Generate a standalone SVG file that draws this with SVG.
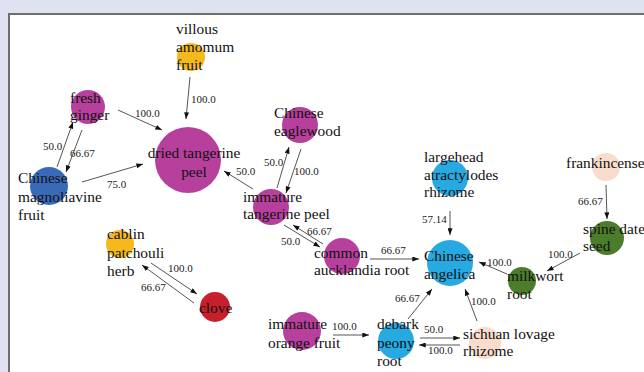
<svg xmlns="http://www.w3.org/2000/svg" width="644" height="372" viewBox="0 0 644 372">
<style>
.n{font-family:"Liberation Serif","Times New Roman",serif;font-size:15.4px;fill:#111}
.l{font-family:"Liberation Serif","Times New Roman",serif;font-size:11px;fill:#222}
.e{stroke:#555;stroke-width:1;fill:none;marker-end:url(#a)}
.pu{fill:#b7409c}.bl{fill:#3a69b8}.cy{fill:#27a9e1}.ye{fill:#f6b91d}.rd{fill:#c5202b}.gr{fill:#4b7d2c}.pe{fill:#f9dccb}
</style>
<defs>
<marker id="a" viewBox="0 0 8 6" refX="8" refY="3" markerWidth="7" markerHeight="5" markerUnits="userSpaceOnUse" orient="auto">
<path d="M0,0 L8,3 L0,6 z" fill="#111"/>
</marker>
</defs>
<rect x="0" y="0" width="644" height="372" fill="#dfe3f1"/>
<rect x="9" y="14" width="645" height="370" fill="#fff" stroke="#6e6e6e" stroke-width="2"/>

<g id="connectors">
<line class="e" x1="190" y1="77" x2="186" y2="119"/>
<text class="l" x="191" y="103">100.0</text>
<line class="e" x1="118" y1="110" x2="162" y2="130"/>
<text class="l" x="135" y="117">100.0</text>
<line class="e" x1="57" y1="167" x2="73" y2="122"/>
<text class="l" x="43" y="150">50.0</text>
<line class="e" x1="82" y1="130" x2="66" y2="172"/>
<text class="l" x="70" y="157">66.67</text>
<line class="e" x1="82" y1="182" x2="143" y2="164"/>
<text class="l" x="107" y="188">75.0</text>
<line class="e" x1="253" y1="189" x2="224" y2="171"/>
<text class="l" x="236" y="175">50.0</text>
<line class="e" x1="277" y1="188" x2="289" y2="147"/>
<text class="l" x="264" y="166">50.0</text>
<line class="e" x1="301" y1="149" x2="286" y2="193"/>
<text class="l" x="294" y="175">100.0</text>
<line class="e" x1="284" y1="225" x2="320" y2="247"/>
<text class="l" x="281" y="245">50.0</text>
<line class="e" x1="323" y1="244" x2="293" y2="225"/>
<text class="l" x="307" y="235">66.67</text>
<line class="e" x1="370" y1="259" x2="419" y2="259"/>
<text class="l" x="381" y="254">66.67</text>
<line class="e" x1="450" y1="211" x2="450" y2="235"/>
<text class="l" x="422" y="223">57.14</text>
<line class="e" x1="606" y1="185" x2="607" y2="219"/>
<text class="l" x="578" y="205">66.67</text>
<line class="e" x1="580" y1="253" x2="547" y2="271"/>
<text class="l" x="548" y="258">100.0</text>
<line class="e" x1="507" y1="274" x2="479" y2="262"/>
<text class="l" x="487" y="266">100.0</text>
<line class="e" x1="408" y1="319" x2="432" y2="289"/>
<text class="l" x="395" y="302">66.67</text>
<line class="e" x1="477" y1="321" x2="465" y2="289"/>
<text class="l" x="471" y="305">100.0</text>
<line class="e" x1="333" y1="335" x2="369" y2="335"/>
<text class="l" x="332" y="330">100.0</text>
<line class="e" x1="420" y1="338" x2="460" y2="338"/>
<text class="l" x="424" y="333">50.0</text>
<line class="e" x1="460" y1="345" x2="419" y2="345"/>
<text class="l" x="428" y="354">100.0</text>
<line class="e" x1="151" y1="263" x2="197" y2="294"/>
<text class="l" x="168" y="272">100.0</text>
<line class="e" x1="194" y1="303" x2="142" y2="265"/>
<text class="l" x="141" y="291">66.67</text>
</g>

<g id="villous-amomum-fruit"><circle class="ye" cx="191" cy="57" r="14"/>
<text class="n" x="176"><tspan x="176" y="34">villous</tspan><tspan x="176" y="52">amomum</tspan><tspan x="176" y="70">fruit</tspan></text></g>
<g id="fresh-ginger"><circle class="pu" cx="88" cy="107" r="17"/>
<text class="n"><tspan x="70" y="103">fresh</tspan><tspan x="70" y="120">ginger</tspan></text></g>
<g id="dried-tangerine-peel"><circle class="pu" cx="188" cy="160" r="33"/>
<text class="n" text-anchor="middle"><tspan x="194" y="158">dried tangerine</tspan><tspan x="194" y="177">peel</tspan></text></g>
<g id="chinese-magnoliavine-fruit"><circle class="bl" cx="49" cy="186" r="19"/>
<text class="n"><tspan x="18" y="183">Chinese</tspan><tspan x="18" y="202">magnoliavine</tspan><tspan x="18" y="220">fruit</tspan></text></g>
<g id="chinese-eaglewood"><circle class="pu" cx="300" cy="125" r="18"/>
<text class="n"><tspan x="274" y="118">Chinese</tspan><tspan x="274" y="136">eaglewood</tspan></text></g>
<g id="immature-tangerine-peel"><circle class="pu" cx="271" cy="207" r="18"/>
<text class="n"><tspan x="243" y="202">immature</tspan><tspan x="243" y="219">tangerine peel</tspan></text></g>
<g id="common-aucklandia-root"><circle class="pu" cx="342" cy="256" r="18"/>
<text class="n"><tspan x="314" y="258">common</tspan><tspan x="314" y="275">aucklandia root</tspan></text></g>
<g id="largehead-atractylodes-rhizome"><circle class="cy" cx="450" cy="178" r="18"/>
<text class="n"><tspan x="424" y="162">largehead</tspan><tspan x="424" y="180">atractylodes</tspan><tspan x="424" y="197">rhizome</tspan></text></g>
<g id="frankincense"><circle class="pe" cx="606" cy="167" r="14"/>
<text class="n" x="566" y="168">frankincense</text></g>
<g id="spine-date-seed"><circle class="gr" cx="607" cy="238" r="17"/>
<text class="n"><tspan x="583" y="234">spine date</tspan><tspan x="583" y="251">seed</tspan></text></g>
<g id="chinese-angelica"><circle class="cy" cx="450" cy="263" r="23"/>
<text class="n"><tspan x="424" y="261">Chinese</tspan><tspan x="424" y="279">angelica</tspan></text></g>
<g id="milkwort-root"><circle class="gr" cx="522" cy="281" r="14"/>
<text class="n"><tspan x="507" y="281">milkwort</tspan><tspan x="507" y="299">root</tspan></text></g>
<g id="debark-peony-root"><circle class="cy" cx="396" cy="341" r="18"/>
<text class="n"><tspan x="377" y="329">debark</tspan><tspan x="377" y="348">peony</tspan><tspan x="377" y="366">root</tspan></text></g>
<g id="sichuan-lovage-rhizome"><circle class="pe" cx="485" cy="343" r="16"/>
<text class="n"><tspan x="463" y="339">sichuan lovage</tspan><tspan x="463" y="356">rhizome</tspan></text></g>
<g id="immature-orange-fruit"><circle class="pu" cx="302" cy="331" r="19"/>
<text class="n"><tspan x="268" y="329">immature</tspan><tspan x="268" y="348">orange fruit</tspan></text></g>
<g id="cablin-patchouli-herb"><circle class="ye" cx="120" cy="244" r="14"/>
<text class="n"><tspan x="107" y="239">cablin</tspan><tspan x="107" y="258">patchouli</tspan><tspan x="107" y="276">herb</tspan></text></g>
<g id="clove"><circle class="rd" cx="215" cy="307" r="15"/>
<text class="n" x="199" y="313">clove</text></g>
</svg>
